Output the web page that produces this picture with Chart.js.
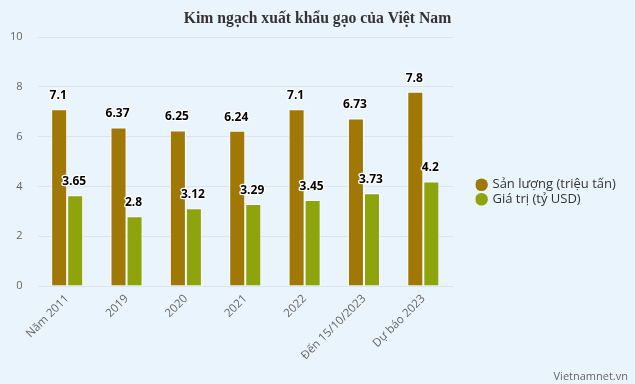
<!DOCTYPE html>
<html>
<head>
<meta charset="utf-8">
<script src="https://cdn.jsdelivr.net/npm/chart.js@4"></script>
<style>
  html, body { margin: 0; padding: 0; background: #EAF4FD; }
  canvas { display: block; }
</style>
</head>
<body>
<canvas id="c" width="635" height="384"></canvas>
<script>
const titleText = 'Kim ngạch xuất khẩu gạo của Việt Nam';
const categories = ['Năm 2011', '2019', '2020', '2021', '2022', 'Đến 15/10/2023', 'Dự báo 2023'];
const sanLuong = [7.1, 6.37, 6.25, 6.24, 7.1, 6.73, 7.8];
const giaTri = [3.65, 2.8, 3.12, 3.29, 3.45, 3.73, 4.2];
const seriesNames = ['Sản lượng (triệu tấn)', 'Giá trị (tỷ USD)'];
const yMin = 0, yMax = 10, yStep = 2;
const creditText = 'Vietnamnet.vn';

const FONT = '"Open Sans", "DejaVu Sans", sans-serif';
const BROWN = '#A07806';
const GREEN = '#8EA40C';
const LEG_FS = 13;

// measure legend width to place the plot area
const mc = document.createElement('canvas').getContext('2d');
mc.font = LEG_FS + 'px ' + FONT;
const maxText = Math.max(...seriesNames.map(s => mc.measureText(s).width));
const legPad = 1.5, box = 9;
const legendW = legPad + box + LEG_FS / 2 + maxText + 10;
const spacerW = 24 - legPad;
const edgeW = Math.max(0, 635 - 453 - spacerW - legendW);

const valueLabels = {
  id: 'valueLabels',
  afterDatasetsDraw(chart) {
    const ctx = chart.ctx;
    ctx.save();
    ctx.font = 'bold 12px ' + FONT;
    ctx.textAlign = 'center';
    ctx.textBaseline = 'middle';
    ctx.lineJoin = 'round';
    chart.data.datasets.forEach((ds, di) => {
      const meta = chart.getDatasetMeta(di);
      meta.data.forEach((el, i) => {
        const t = String(ds.data[i]);
        const x = el.x - 1, y = el.y - 13.5;
        ctx.lineWidth = 2.5;
        ctx.strokeStyle = '#ffffff';
        ctx.strokeText(t, x, y);
        ctx.fillStyle = '#000000';
        ctx.fillText(t, x, y);
      });
    });
    ctx.restore();
  }
};

const credits = {
  id: 'credits',
  afterDraw(chart) {
    const ctx = chart.ctx;
    ctx.save();
    ctx.font = '11px ' + FONT;
    ctx.fillStyle = '#666666';
    ctx.textAlign = 'right';
    ctx.textBaseline = 'middle';
    ctx.fillText(creditText, 628, 377);
    ctx.restore();
  }
};

const hiddenAxis = (w, weight) => ({
  type: 'linear',
  position: 'right',
  display: true,
  weight: weight,
  grid: { display: false, drawTicks: false },
  border: { display: false },
  ticks: { display: false },
  afterFit(s) { s.width = w; }
});

new Chart(document.getElementById('c'), {
  type: 'bar',
  data: {
    labels: categories,
    datasets: [
      { label: seriesNames[0], data: sanLuong, backgroundColor: BROWN, borderColor: '#ffffff', borderWidth: 1,
        categoryPercentage: 0.54, barPercentage: 1 },
      { label: seriesNames[1], data: giaTri, backgroundColor: GREEN, borderColor: '#ffffff', borderWidth: 1,
        categoryPercentage: 0.54, barPercentage: 1 }
    ]
  },
  options: {
    responsive: false,
    animation: false,
    devicePixelRatio: 1,
    layout: { padding: 0 },
    plugins: {
      title: {
        display: true,
        text: titleText,
        color: '#333333',
        font: { family: '"Liberation Serif", "Times New Roman", serif', size: 15.7, weight: 'bold', lineHeight: 1.2 },
        padding: { top: 10, bottom: 8.2 }
      },
      legend: {
        position: 'right',
        align: 'center',
        maxWidth: 400,
        labels: {
          usePointStyle: true,
          pointStyle: 'circle',
          boxWidth: box,
          boxHeight: box,
          padding: legPad,
          color: '#333333',
          font: { family: FONT, size: LEG_FS },
          generateLabels(chart) {
            return Chart.defaults.plugins.legend.labels.generateLabels(chart).map(l => Object.assign(l, { lineWidth: 0, strokeStyle: l.fillStyle }));
          }
        }
      },
      tooltip: { enabled: false }
    },
    scales: {
      x: {
        grid: { display: false, drawTicks: false },
        border: { display: false },
        ticks: { color: '#666666', font: { family: FONT, size: 11.5 }, minRotation: 45, maxRotation: 45, padding: 6, autoSkip: false },
        afterFit(s) { s.height = 98; }
      },
      y: {
        min: yMin, max: yMax,
        grid: { color: '#DCE5EE', drawTicks: false },
        border: { display: false },
        ticks: { stepSize: yStep, color: '#666666', font: { family: FONT, size: 11 }, padding: 15 },
        afterFit(s) { s.width = 37.5; }
      },
      spacer: hiddenAxis(spacerW, 0),
      edge: hiddenAxis(edgeW, 5000)
    }
  },
  plugins: [valueLabels, credits]
});
</script>
</body>
</html>
